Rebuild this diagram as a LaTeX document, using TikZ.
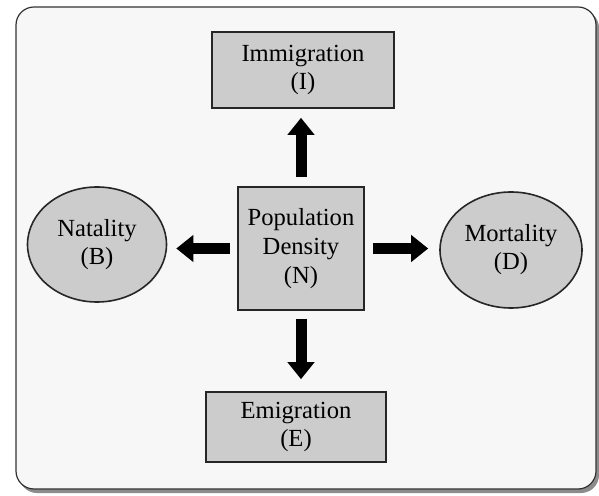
\documentclass[tikz,border=0pt]{standalone}
\usepackage{fontspec}
\setmainfont{Liberation Serif}
\usepackage{tikz}
\usetikzlibrary{arrows.meta, positioning, shapes.geometric, calc}

\tikzset{
  factorbox/.style={draw=black!85, line width=0.8pt, fill=black!20, align=center,
    font=\fontsize{12.3}{14}\selectfont, inner sep=2pt},
  factoroval/.style={ellipse, draw=black!85, line width=0.8pt, fill=black!20, align=center,
    font=\fontsize{12.3}{14}\selectfont, inner sep=0pt},
  bigarrow/.style={line width=5.5pt, black, -{Triangle[width=13pt, length=8.5pt]}}
}

\begin{document}
\begin{tikzpicture}[x=0.5pt, y=-0.5pt]
  \useasboundingbox (0,0) rectangle (599,496);

  % Outer frame with shadow
  \fill[black!45, rounded corners=9pt] (19,10) rectangle (599,493);
  \draw[black!80, line width=0.6pt, fill=black!3, rounded corners=9pt] (16,7) rectangle (596,489);

  % Central node
  \node[factorbox, minimum width=63pt, minimum height=61.5pt,
    font=\fontsize{12.3}{14.5}\selectfont] (N) at (301,248.5)
    {Population\\Density\\(N)};

  % Surrounding factors
  \node[factorbox, minimum width=91pt, minimum height=38pt] (I) at (303,70) {Immigration\\(I)};
  \node[factorbox, minimum width=90pt, minimum height=35pt] (E) at (296,427) {Emigration\\(E)};
  \node[factoroval, minimum width=69.5pt, minimum height=57.5pt] (B) at (97,244.5) {Natality\\(B)};
  \node[factoroval, minimum width=71pt, minimum height=58pt] (D) at (511,250) {Mortality\\(D)};

  % Arrows out of the central node
  \draw[bigarrow, shorten <=4.5pt, shorten >=4.5pt] (N.north) -- (N.north |- I.south);
  \draw[bigarrow, shorten <=4pt, shorten >=6pt] (N.south) -- (N.south |- E.north);
  \draw[bigarrow, shorten <=3.5pt, shorten >=4.5pt] (N.west) -- (N.west -| B.east);
  \draw[bigarrow, shorten <=4pt, shorten >=5.5pt] (N.east) -- (N.east -| D.west);
\end{tikzpicture}
\end{document}
